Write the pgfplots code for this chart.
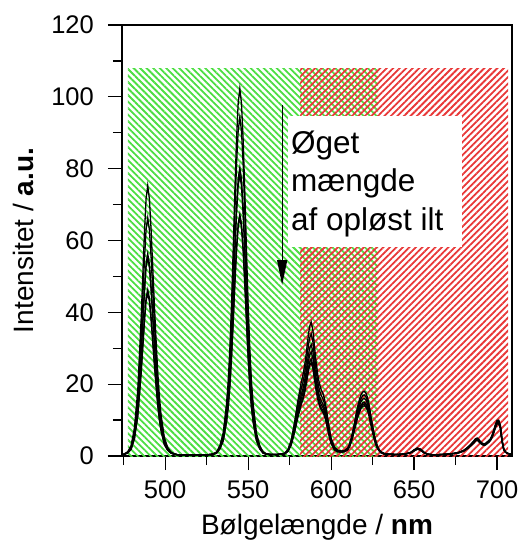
\documentclass[border=0pt]{standalone}
\usepackage{fontspec}
\setmainfont{Liberation Sans}
\usepackage{pgfplots}
\usepackage{pgfplotstable}
\pgfplotsset{compat=1.18}
\usetikzlibrary{patterns.meta,arrows.meta}
\definecolor{hgreen}{RGB}{75,222,65}
\definecolor{hred}{RGB}{232,55,55}

\pgfplotstableread{
x c1 c2 c3 c4 c5 c6
474 0.3 0.3 0.3 0.3 0.3 0.3
475.5 0.6 0.6 0.5 0.5 0.5 0.5
477.5 1.2 1.1 1.0 1.0 0.9 0.8
479.5 2.9 2.6 2.3 2.2 1.9 1.9
481.5 7.8 6.9 5.9 5.8 4.9 4.8
483.5 18.3 16.1 13.7 13.5 11.3 11.1
485.5 37.8 33.3 28.3 27.8 23.3 22.8
486.5 49.8 43.9 37.3 36.6 30.7 30.0
487.5 61.8 54.4 46.2 45.4 38.0 37.2
488.5 71.6 63.0 53.5 52.6 44.0 43.1
489.5 75.3 66.3 56.3 55.3 46.3 45.3
490.5 71.6 63.0 53.5 52.6 44.0 43.1
491.5 63.3 55.7 47.3 46.5 38.9 38.1
492.5 52.8 46.5 39.5 38.8 32.5 31.8
493.5 42.3 37.3 31.7 31.1 26.1 25.5
494.5 32.6 28.7 24.4 24.0 20.1 19.7
495.5 23.6 20.8 17.7 17.4 14.6 14.3
496.5 16.8 14.8 12.6 12.4 10.4 10.2
497.5 11.6 10.2 8.7 8.6 7.2 7.1
499.5 5.2 4.6 3.9 3.9 3.3 3.2
501.5 2.4 2.1 1.9 1.8 1.6 1.6
503.5 1.1 1.0 0.9 0.9 0.8 0.8
505.5 0.6 0.6 0.5 0.5 0.5 0.5
508 0.3 0.3 0.3 0.3 0.3 0.3
512 0.3 0.3 0.3 0.3 0.3 0.3
516 0.3 0.3 0.3 0.3 0.3 0.3
520 0.3 0.3 0.3 0.3 0.3 0.3
524 0.3 0.3 0.3 0.3 0.3 0.3
527 0.4 0.4 0.4 0.4 0.4 0.4
529 0.6 0.6 0.5 0.5 0.5 0.5
531 1.1 1.1 0.9 0.9 0.8 0.8
533 2.9 2.7 2.3 2.3 2.0 2.0
535 6.4 5.9 5.1 5.0 4.3 4.3
537 14.6 13.5 11.5 11.2 9.7 9.5
538 20.7 19.1 16.3 15.9 13.7 13.5
539 29.9 27.6 23.5 22.9 19.7 19.4
540 42.1 38.8 33.1 32.3 27.8 27.4
541 57.4 52.9 45.1 44.0 37.8 37.3
542 73.7 68.0 57.9 56.5 48.5 47.8
543 88.0 81.1 69.1 67.4 57.9 57.1
544 98.2 90.5 77.1 75.2 64.6 63.7
545 102.3 94.3 80.3 78.3 67.3 66.3
546 98.2 90.5 77.1 75.2 64.6 63.7
547 88.0 81.1 69.1 67.4 57.9 57.1
548 73.7 68.0 57.9 56.5 48.5 47.8
549 57.4 52.9 45.1 44.0 37.8 37.3
550 42.1 38.8 33.1 32.3 27.8 27.4
551 29.9 27.6 23.5 22.9 19.7 19.4
552 20.7 19.1 16.3 15.9 13.7 13.5
553 14.6 13.5 11.5 11.2 9.7 9.5
555 6.4 5.9 5.1 5.0 4.3 4.3
557 2.9 2.7 2.3 2.3 2.0 2.0
559 1.1 1.1 0.9 0.9 0.8 0.8
561 0.6 0.6 0.5 0.5 0.5 0.5
564 0.4 0.4 0.4 0.4 0.4 0.4
567 0.4 0.4 0.4 0.4 0.4 0.4
569 0.5 0.5 0.5 0.5 0.5 0.5
572 0.8 0.7 0.7 0.6 0.6 0.6
574 1.8 1.6 1.5 1.4 1.3 1.3
576 4.5 4.1 3.7 3.5 3.3 3.1
578 9.5 8.7 7.9 7.4 6.9 6.6
580 15.5 14.1 12.9 12.0 11.2 10.8
582 20.5 18.7 17.0 15.9 14.8 14.3
583 22.5 20.5 18.7 17.5 16.3 15.7
584 25.0 22.8 20.8 19.4 18.1 17.4
585 28.5 26.0 23.7 22.1 20.6 19.9
586 32.5 29.6 27.0 25.3 23.5 22.7
587 36.0 32.8 29.9 28.0 26.1 25.1
588 37.3 34.0 31.0 29.0 27.0 26.0
589 35.0 31.9 29.1 27.2 25.3 24.4
590 30.5 27.8 25.3 23.7 22.1 21.3
591 26.0 23.7 21.6 20.2 18.8 18.1
592 22.5 20.5 18.7 17.5 16.3 15.7
593 20.0 18.2 16.6 15.5 14.5 13.9
594 18.5 16.9 15.4 14.4 13.4 12.9
595 17.5 16.0 14.5 13.6 12.7 12.2
596 16.0 14.6 13.3 12.4 11.6 11.2
597 13.5 12.3 11.2 10.5 9.8 9.4
598 10.5 9.6 8.7 8.2 7.6 7.3
599 7.5 6.8 6.2 5.8 5.4 5.2
600 5.0 4.6 4.2 3.9 3.6 3.5
602 2.5 2.3 2.1 1.9 1.8 1.7
604 1.6 1.5 1.4 1.3 1.2 1.1
606 1.4 1.3 1.2 1.2 1.1 1.1
608 1.5 1.4 1.3 1.2 1.2 1.2
610 2.2 2.1 2.0 1.8 1.8 1.7
611 3.2 3.0 2.8 2.7 2.6 2.5
612 4.8 4.5 4.3 4.0 3.9 3.7
613 6.8 6.4 6.0 5.7 5.5 5.3
614 9.0 8.5 8.0 7.5 7.3 7.0
615 11.5 10.9 10.2 9.6 9.3 8.9
616 13.8 13.0 12.3 11.5 11.1 10.7
617 15.6 14.7 13.9 13.0 12.6 12.1
618 17.0 16.0 15.1 14.2 13.7 13.2
619 17.8 16.8 15.8 14.8 14.3 13.8
620 18.0 17.0 16.0 15.0 14.5 14.0
621 17.5 16.5 15.6 14.6 14.1 13.6
622 16.2 15.3 14.4 13.5 13.1 12.6
623 14.0 13.2 12.4 11.7 11.3 10.9
624 11.0 10.4 9.8 9.2 8.9 8.6
625 8.5 8.0 7.6 7.1 6.9 6.6
626 6.0 5.7 5.3 5.0 4.8 4.7
627 4.0 3.8 3.6 3.3 3.2 3.1
628 2.7 2.5 2.4 2.2 2.2 2.1
629 1.8 1.7 1.6 1.5 1.5 1.4
630 1.2 1.1 1.1 1.0 1.0 0.9
632 0.7 0.7 0.6 0.6 0.6 0.5
635 0.5 0.5 0.5 0.5 0.5 0.5
640 0.4 0.4 0.4 0.4 0.4 0.4
645 0.6 0.6 0.6 0.6 0.6 0.6
648 1.0 1.0 1.0 0.9 0.9 0.9
650 1.7 1.7 1.6 1.5 1.5 1.4
652 2.2 2.2 2.1 2.0 1.9 1.9
654 1.9 1.9 1.8 1.7 1.6 1.6
656 1.0 1.0 1.0 0.9 0.9 0.9
658 0.5 0.5 0.5 0.5 0.5 0.5
662 0.3 0.3 0.3 0.3 0.3 0.3
666 0.4 0.4 0.4 0.4 0.4 0.4
670 0.5 0.5 0.5 0.5 0.5 0.5
674 0.7 0.7 0.7 0.7 0.7 0.7
677 1.0 1.0 1.0 0.9 0.9 0.9
680 1.6 1.6 1.5 1.5 1.4 1.4
682 2.3 2.3 2.2 2.1 2.0 2.0
684 3.2 3.1 3.0 2.9 2.8 2.8
686 4.2 4.1 4.0 3.8 3.7 3.6
687 4.8 4.7 4.6 4.4 4.3 4.2
688 5.0 4.9 4.8 4.6 4.5 4.4
689 4.6 4.5 4.4 4.2 4.1 4.0
690 4.0 3.9 3.8 3.7 3.6 3.5
691 3.6 3.5 3.4 3.3 3.2 3.2
692 3.4 3.3 3.2 3.1 3.0 3.0
693 3.5 3.4 3.3 3.2 3.1 3.1
694 3.9 3.8 3.7 3.6 3.5 3.4
695 4.3 4.2 4.1 4.0 3.9 3.8
696 4.8 4.7 4.6 4.5 4.4 4.3
697 5.8 5.7 5.5 5.4 5.3 5.2
698 7.2 7.0 6.8 6.7 6.5 6.4
699 8.8 8.6 8.4 8.2 8.0 7.9
700 9.9 9.7 9.5 9.3 9.1 8.9
701 10.0 9.8 9.6 9.4 9.2 9.0
702 8.5 8.3 8.1 8.0 7.8 7.7
703 4.5 4.4 4.3 4.2 4.1 4.0
704 2.0 2.0 1.9 1.9 1.8 1.8
705 1.2 1.2 1.1 1.1 1.1 1.1
706 0.8 0.8 0.8 0.8 0.8 0.8
708 0.5 0.5 0.5 0.5 0.5 0.5
709 0.4 0.4 0.4 0.4 0.4 0.4
}\spectra

\begin{document}
\begin{tikzpicture}
\begin{axis}[
  width=390pt, height=431pt, scale only axis,
  xmin=474, xmax=709, ymin=0, ymax=120,
  xtick={500,550,600,650,700}, minor xtick={475,525,575,625,675},
  ytick={0,20,...,120}, minor ytick={10,30,...,110},
  tick align=outside, tick pos=left,
  major tick length=14pt, minor tick length=9pt,
  every tick/.style={black, line width=1.2pt},
  axis line style={line width=1.2pt},
  /pgf/number format/assume math mode=true,
  ticklabel style={font=\fontsize{25.5}{30}\selectfont},
  yticklabel style={inner sep=0pt, xshift=-14pt},
  xticklabel style={inner sep=0pt, yshift=-10pt},
  xlabel={Bølgelængde / \textbf{nm}},
  ylabel={Intensitet / \textbf{a.u.}},
  label style={font=\fontsize{28}{32}\selectfont},
  xlabel style={at={(axis description cs:0.5,-0.183)}, anchor=base},
  ylabel style={at={(axis description cs:-0.226,0.5)}, anchor=base},
]
\addplot[draw=none, pattern={Lines[angle=-45,distance=4.6pt,line width=1.8pt]}, pattern color=hgreen]
  coordinates {(477.6,108) (628.4,108)} \closedcycle;
\addplot[draw=none, pattern={Lines[angle=45,distance=4.6pt,line width=1.8pt]}, pattern color=hred]
  coordinates {(581.3,108) (706.7,108)} \closedcycle;

\fill[white] (axis cs:574.1,58.3) rectangle (axis cs:678.8,94.6);
\node[anchor=base west, inner sep=0pt, font=\fontsize{31.5}{36}\selectfont] at (axis cs:575.8,84.3) {Øget};
\node[anchor=base west, inner sep=0pt, font=\fontsize{31.5}{36}\selectfont] at (axis cs:575.8,73.6) {mængde};
\node[anchor=base west, inner sep=0pt, font=\fontsize{31.5}{36}\selectfont] at (axis cs:575.8,62.9) {af opløst ilt};
\draw[line width=1.3pt, -{Triangle[width=10pt,length=25pt]}] (axis cs:570.5,97.7) -- (axis cs:570.5,47.6);

\addplot[black, line width=1.3pt] table[x=x,y=c6] {\spectra};
\addplot[black, line width=1.3pt] table[x=x,y=c5] {\spectra};
\addplot[black, line width=1.3pt] table[x=x,y=c4] {\spectra};
\addplot[black, line width=1.3pt] table[x=x,y=c3] {\spectra};
\addplot[black, line width=1.3pt] table[x=x,y=c2] {\spectra};
\addplot[black, line width=1.3pt] table[x=x,y=c1] {\spectra};
\end{axis}
\pgfresetboundingbox
\path ([shift={(-122pt,-90pt)}]current axis.south west) rectangle ([shift={(10pt,25pt)}]current axis.north east);
\end{tikzpicture}
\end{document}
